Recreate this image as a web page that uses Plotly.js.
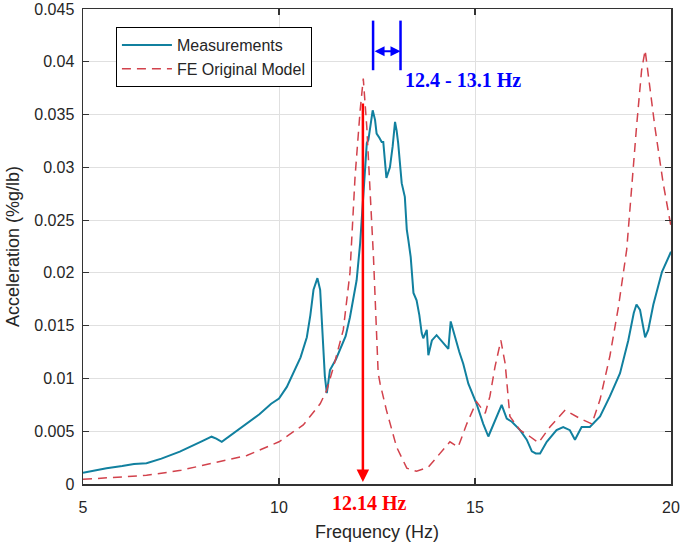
<!DOCTYPE html>
<html>
<head>
<meta charset="utf-8">
<script src="https://cdn.plot.ly/plotly-3.0.1.min.js"></script>
<style>html,body{margin:0;padding:0;background:#fff;}#chart{width:685px;height:546px;}</style>
</head>
<body>
<div id="chart"></div>
<script>
// Measurements
const measFreq = [5.0,5.3,5.6,6.0,6.3,6.62,7.0,7.47,7.8,8.0,8.28,8.4,8.54,8.8,9.18,9.5,9.8,10.0,10.2,10.37,10.55,10.71,10.8,10.88,10.98,11.05,11.12,11.17,11.22,11.3,11.45,11.56,11.7,11.81,11.98,12.07,12.17,12.24,12.28,12.34,12.39,12.45,12.49,12.56,12.62,12.66,12.74,12.83,12.9,12.96,13.0,13.04,13.13,13.21,13.26,13.3,13.36,13.43,13.51,13.58,13.64,13.68,13.73,13.77,13.81,13.9,14.02,14.19,14.32,14.38,14.49,14.6,14.7,14.83,15.04,15.21,15.34,15.47,15.68,15.81,15.94,16.15,16.32,16.45,16.55,16.66,16.83,17.08,17.25,17.42,17.55,17.72,17.93,18.19,18.44,18.7,18.91,19.05,19.12,19.21,19.34,19.42,19.55,19.77,20.0];
const measAcc = [0.00107,0.0013,0.0015,0.0017,0.0019,0.00196,0.0024,0.00306,0.0036,0.0040,0.00448,0.0043,0.0040,0.0047,0.00575,0.0066,0.0076,0.0081,0.0092,0.0105,0.0120,0.0139,0.0160,0.0184,0.0195,0.0184,0.0140,0.0102,0.0086,0.0108,0.0118,0.0127,0.0140,0.0158,0.0193,0.0228,0.0280,0.0323,0.0326,0.0340,0.0354,0.0345,0.0332,0.0328,0.0324,0.0324,0.0290,0.0300,0.0320,0.0343,0.0335,0.0323,0.0285,0.0272,0.0241,0.0231,0.0215,0.0181,0.0174,0.0160,0.0143,0.0138,0.0143,0.0146,0.0122,0.0136,0.0141,0.0133,0.0128,0.0154,0.0139,0.0125,0.0114,0.0095,0.0076,0.0057,0.0045,0.0057,0.0075,0.0062,0.0059,0.0051,0.0042,0.0031,0.0029,0.0029,0.0040,0.0051,0.0054,0.0051,0.0042,0.0054,0.0054,0.0064,0.0083,0.0105,0.0136,0.0162,0.0170,0.0165,0.0139,0.0146,0.0170,0.0201,0.0220];
// FE Original Model
const feFreq = [5.0,6.0,6.62,7.5,8.32,9.18,10.0,10.62,11.05,11.22,11.39,11.64,11.81,11.94,12.07,12.15,12.24,12.32,12.41,12.53,12.58,12.74,13.0,13.26,13.51,13.81,14.11,14.36,14.57,14.79,15.04,15.26,15.38,15.51,15.66,15.77,15.89,16.15,16.4,16.62,16.91,17.3,17.68,17.98,18.19,18.44,18.66,18.87,19.12,19.25,19.34,19.42,19.59,19.8,20.0];
const feAcc = [0.00044,0.00065,0.00082,0.0013,0.0020,0.0027,0.0040,0.0056,0.0076,0.0089,0.0111,0.0146,0.0200,0.0291,0.0354,0.0384,0.0338,0.0285,0.0215,0.0105,0.0095,0.0070,0.0035,0.0015,0.0012,0.0016,0.0029,0.0040,0.0035,0.0057,0.0078,0.0067,0.0083,0.0111,0.0136,0.0114,0.0064,0.0051,0.0045,0.0039,0.0054,0.0070,0.0062,0.0057,0.0080,0.0121,0.0168,0.0222,0.0338,0.0392,0.0411,0.0386,0.0338,0.0285,0.0244];
// Ticks
const xTickVals = [5,10,15,20];
const xTickText = ["5","10","15","20"];
const yTickVals = [0,0.005,0.01,0.015,0.02,0.025,0.03,0.035,0.04,0.045];
const yTickText = ["0","0.005","0.01","0.015","0.02","0.025","0.03","0.035","0.04","0.045"];
// Annotation values
const peakFE = [12.14, 0.0362];        // FE peak frequency, arrow top
const bandMeas = [12.4, 13.1];          // measured peak band
const bandY = [0.0392, 0.0439, 0.0410]; // bar bottom, bar top, arrow level
const peakLabel = "12.14 Hz";
const bandLabel = "12.4 - 13.1 Hz";

const traces = [
  {x: measFreq, y: measAcc, type: 'scatter', mode: 'lines', name: 'Measurements',
   line: {color: '#11809f', width: 2}},
  {x: feFreq, y: feAcc, type: 'scatter', mode: 'lines', name: 'FE Original Model',
   line: {color: '#d2424c', width: 1.5, dash: '9px,6px'}}
];

const axisCommon = {
  showline: true, linecolor: '#333', linewidth: 1.5, mirror: 'ticks',
  ticks: 'inside', ticklen: 6, tickcolor: '#333', tickwidth: 1.2,
  showgrid: true, gridcolor: '#e0e0e0', gridwidth: 1, zeroline: false,
  tickfont: {family: 'Liberation Sans, Arial', size: 16, color: '#262626'}
};

const layout = {
  width: 685, height: 546,
  margin: {l: 83, r: 14, t: 9, b: 62},
  paper_bgcolor: '#fff', plot_bgcolor: '#fff',
  showlegend: true,
  legend: {x: 0.056, y: 0.962, xanchor: 'left', yanchor: 'top',
    bgcolor: '#fff', bordercolor: '#000', borderwidth: 1, itemwidth: 50,
    font: {family: 'Liberation Sans, Arial', size: 16, color: '#262626'}},
  xaxis: Object.assign({}, axisCommon, {
    range: [5, 20], tickvals: xTickVals, ticktext: xTickText, ticklabelstandoff: 8,
    title: {text: 'Frequency (Hz)', standoff: 10, font: {family: 'Liberation Sans, Arial', size: 18, color: '#262626'}}
  }),
  yaxis: Object.assign({}, axisCommon, {
    range: [0, 0.045], tickvals: yTickVals, ticktext: yTickText, ticklabelstandoff: 4,
    title: {text: 'Acceleration (%g/lb)', standoff: 10, font: {family: 'Liberation Sans, Arial', size: 18, color: '#262626'}}
  }),
  shapes: [
    {type: 'line', xref: 'x', yref: 'y', x0: bandMeas[0], x1: bandMeas[0], y0: bandY[0], y1: bandY[1], line: {color: '#0000ff', width: 2.5}},
    {type: 'line', xref: 'x', yref: 'y', x0: bandMeas[1], x1: bandMeas[1], y0: bandY[0], y1: bandY[1], line: {color: '#0000ff', width: 2.5}}
  ],
  annotations: [
    {x: peakFE[0], y: 0.0002, xref: 'x', yref: 'y', ax: peakFE[0], ay: peakFE[1], axref: 'x', ayref: 'y',
     text: '', showarrow: true, arrowhead: 2, arrowsize: 1, arrowwidth: 2.5, arrowcolor: '#ff0000'},
    {x: bandMeas[1], y: bandY[2], xref: 'x', yref: 'y', ax: bandMeas[0], ay: bandY[2], axref: 'x', ayref: 'y',
     text: '', showarrow: true, arrowhead: 2, startarrowhead: 2, arrowside: 'end+start', arrowsize: 1, arrowwidth: 2, arrowcolor: '#0000ff'},
    {x: 12.3, y: -0.04, xref: 'x', yref: 'paper', yanchor: 'middle', text: '<b>' + peakLabel + '</b>', showarrow: false,
     font: {family: 'Liberation Serif, Times New Roman', size: 20, color: '#ff0000'}},
    {x: 13.16, y: 0.0383, xref: 'x', yref: 'y', xanchor: 'left', text: '<b>' + bandLabel + '</b>', showarrow: false,
     font: {family: 'Liberation Serif, Times New Roman', size: 20, color: '#0000ff'}}
  ]
};

Plotly.newPlot('chart', traces, layout, {displayModeBar: false, staticPlot: true});
</script>
</body>
</html>
